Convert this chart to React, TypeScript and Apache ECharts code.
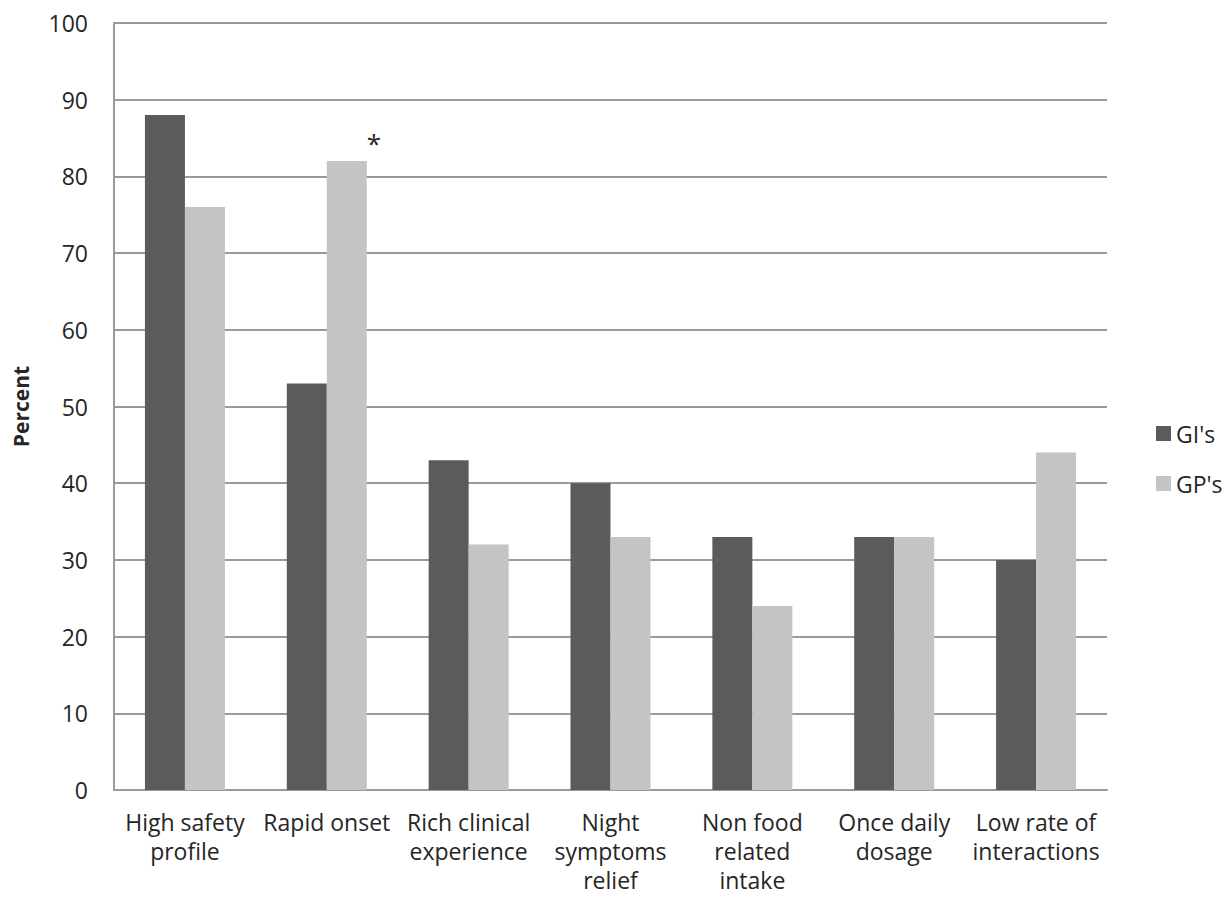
import React, { useEffect, useRef } from "react";
import * as echarts from "echarts";

const categories = [
  "High safety\nprofile",
  "Rapid onset",
  "Rich clinical\nexperience",
  "Night\nsymptoms\nrelief",
  "Non food\nrelated\nintake",
  "Once daily\ndosage",
  "Low rate of\ninteractions",
];
const giValues = [88, 53, 43, 40, 33, 33, 30];
const gpValues = [76, 82, 32, 33, 24, 33, 44];
const significantIndex = 1; // asterisk over GP's "Rapid onset"
const yTicks = { min: 0, max: 100, interval: 10 };

const FONT = "'Open Sans', 'Noto Sans', sans-serif";
const TEXT = "#262626";

export default function App() {
  const ref = useRef<HTMLDivElement>(null);
  useEffect(() => {
    if (!ref.current) return;
    const chart = echarts.init(ref.current, undefined, { renderer: "svg" });
    chart.setOption({
      animation: false,
      backgroundColor: "#ffffff",
      textStyle: { fontFamily: FONT, color: TEXT },
      grid: {
        left: 114,
        right: 119,
        top: 23,
        bottom: 112,
        containLabel: false,
        outerBoundsMode: "none",
      },
      legend: {
        orient: "vertical",
        left: 1151,
        top: 417,
        itemWidth: 15,
        itemHeight: 15,
        itemGap: 27,
        icon: "rect",
        textStyle: { fontFamily: FONT, fontSize: 23, color: TEXT },
        data: ["GI's", "GP's"],
      },
      xAxis: {
        type: "category",
        data: categories,
        axisLine: { show: true, lineStyle: { color: "#9a9a9a", width: 2 } },
        axisTick: { show: false },
        axisLabel: {
          interval: 0,
          margin: 17,
          fontFamily: FONT,
          fontSize: 23,
          color: TEXT,
          lineHeight: 29,
        },
      },
      yAxis: {
        type: "value",
        min: yTicks.min,
        max: yTicks.max,
        interval: yTicks.interval,
        name: "Percent",
        nameLocation: "middle",
        nameGap: 83,
        nameTextStyle: { fontFamily: FONT, fontSize: 21, fontWeight: "bold", color: TEXT },
        axisLine: { show: true, lineStyle: { color: "#9a9a9a", width: 2 } },
        axisTick: { show: false },
        splitLine: { show: true, lineStyle: { color: "#9a9a9a", width: 2 } },
        axisLabel: { margin: 26, fontFamily: FONT, fontSize: 23, color: TEXT },
      },
      series: [
        {
          name: "GI's",
          type: "bar",
          data: giValues,
          barWidth: 40,
          barGap: "0%",
          itemStyle: { color: "#5b5b5d" },
        },
        {
          name: "GP's",
          type: "bar",
          data: gpValues.map((v, i) =>
            i === significantIndex
              ? {
                  value: v,
                  label: {
                    show: true,
                    formatter: "*",
                    position: ["100%", -18],
                    align: "left",
                    verticalAlign: "middle",
                    fontSize: 26,
                    fontFamily: FONT,
                    color: TEXT,
                  },
                }
              : v
          ),
          barWidth: 40,
          itemStyle: { color: "#c4c4c6" },
        },
      ],
    });
    return () => chart.dispose();
  }, []);
  return <div ref={ref} style={{ width: 1226, height: 902, position: "absolute", left: 0, top: 0 }} />;
}
